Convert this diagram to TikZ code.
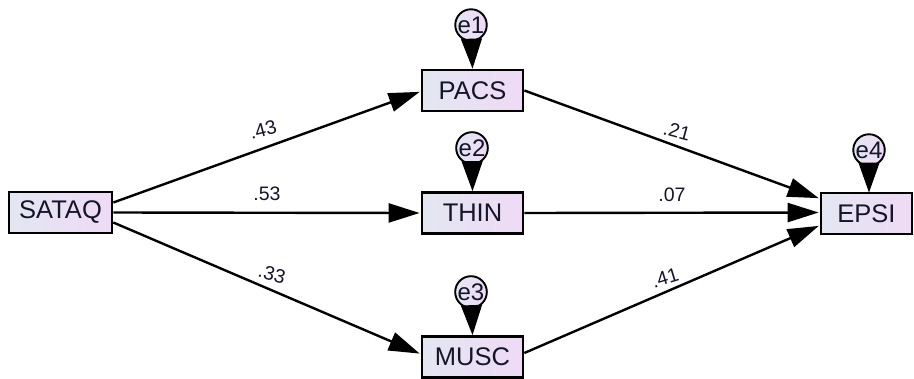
\documentclass[tikz,border=0pt]{standalone}
\usepackage{fontspec}
\setmainfont{Liberation Sans}
\usetikzlibrary{arrows.meta,shadings}
\definecolor{gl}{HTML}{E3E7F1}
\definecolor{gr}{HTML}{EFDAF5}
\definecolor{txt}{HTML}{15152A}
\tikzset{
  obs/.style={draw=black, line width=2.7pt, minimum width=#1, minimum height=41pt, inner sep=0pt,
    left color=gl, right color=gr, text=txt, font=\fontsize{25.5}{28}\selectfont},
  err/.style={draw=black, line width=1.9pt, circle, minimum size=29pt, inner sep=0pt,
    left color=gl, right color=gr, text=txt, font=\fontsize{24}{26}\selectfont},
  path/.style={line width=2.4pt, -{Triangle[length=31pt,width=19pt]}, shorten >=1pt},
  errpath/.style={line width=1pt, -{Triangle[length=30pt,width=21pt]}},
  lbl/.style={font=\fontsize{19.5}{21}\selectfont, text=txt, inner sep=0pt}
}
\begin{document}
\begin{tikzpicture}[x=1pt,y=-1pt]
\useasboundingbox (0,0) rectangle (914,378);
% observed variables
\node[obs=103pt] (sataq) at (60.5,212.5) {SATAQ};
\node[obs=101pt] (pacs) at (472.5,90.5) {PACS};
\node[obs=101pt] (thin) at (472.5,213) {THIN};
\node[obs=101pt] (musc) at (472.5,357) {MUSC};
\node[obs=91pt] (epsi) at (866.5,213.5) {EPSI};
% errors
\node[err] (e1) at (471,25) {e1};
\node[err] (e2) at (472,148) {e2};
\node[err] (e3) at (471,292) {e3};
\node[err] (e4) at (869,150) {e4};
% error paths
\draw[errpath] (e1) -- (pacs.north);
\draw[errpath] (e2) -- (thin.north);
\draw[errpath] (e3) -- (musc.north);
\draw[errpath] (e4) -- (869,192.5);
% structural paths
\draw[path] ([yshift=10pt]sataq.east) -- ([yshift=-1pt]pacs.west);
\draw[path] (sataq.east) -- (thin.west);
\draw[path] ([yshift=-10pt]sataq.east) -- ([yshift=3pt]musc.west);
\draw[path] (pacs.east) -- ([yshift=15pt]epsi.west);
\draw[path] (thin.east) -- ([yshift=1pt]epsi.west);
\draw[path] ([yshift=4pt]musc.east) -- ([yshift=-12pt]epsi.west);
% labels
\node[lbl, rotate=15] (l43) at (263,130) {.43};
\node[lbl] (l53) at (267,194) {.53};
\node[lbl, rotate=-15] (l33) at (272,274) {.33};
\node[lbl, rotate=-15] (l21) at (677,131) {.21};
\node[lbl] (l07) at (672,195) {.07};
\node[lbl, rotate=17] (l41) at (665,278) {.41};
\end{tikzpicture}
\end{document}
